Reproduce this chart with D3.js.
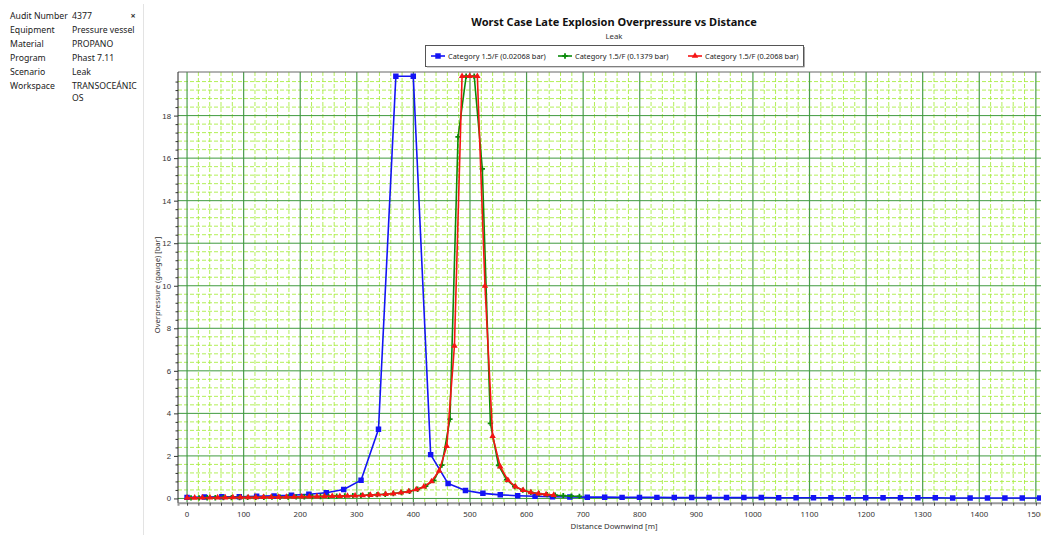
<!DOCTYPE html>
<html>
<head>
  <script src="https://d3js.org/d3.v7.min.js"></script>
  <style>
    body { margin: 0; background: #fff; }
    svg { display: block; font-family: "Noto Sans", "Open Sans", sans-serif; }
    .tick-label { font-size: 7.8px; fill: #333; }
    .panel-text { font-size: 8.7px; fill: #222; }
  </style>
</head>
<body>
  <script>
    const width = 1041;
    const height = 535;

    // info panel
    const infoLabels = ["Audit Number", "Equipment", "Material", "Program", "Scenario", "Workspace"];
    const infoValues = ["4377", "Pressure vessel", "PROPANO", "Phast 7.11", "Leak", "TRANSOCEÁNIC|OS"];

    const seriesNames = ["Category 1.5/F (0.02068 bar)", "Category 1.5/F (0.1379 bar)", "Category 1.5/F (0.2068 bar)"];

    // Category 1.5/F (0.02068 bar)
    const blueX = [0, 30.8, 61.5, 92.3, 123, 153.8, 184.5, 215.3, 246, 276.8, 307.5, 338.3, 369, 399.8, 430.5,
      461.3, 492, 522.8, 553.5, 584.3, 615, 645.8, 676.5, 707.3, 738, 768.8, 799.5, 830.3, 861, 891.8, 922.5,
      953.3, 984, 1014.8, 1045.5, 1076.3, 1107, 1137.8, 1168.5, 1199.3, 1230, 1260.8, 1291.5, 1322.3, 1353,
      1383.8, 1414.5, 1445.3, 1476, 1506.8];
    const blueY = [0.05, 0.07, 0.08, 0.08, 0.1, 0.12, 0.15, 0.2, 0.27, 0.42, 0.86, 3.25, 19.85, 19.85, 2.06,
      0.7, 0.37, 0.24, 0.17, 0.13, 0.1, 0.08, 0.07, 0.06, 0.06, 0.05, 0.05, 0.05, 0.04, 0.04, 0.04,
      0.04, 0.04, 0.04, 0.03, 0.03, 0.03, 0.03, 0.03, 0.03, 0.03, 0.03, 0.03, 0.03, 0.02, 0.02,
      0.02, 0.02, 0.02, 0.02];

    // Category 1.5/F (0.1379 bar)
    const greenX = [7, 21.3, 35.6, 49.9, 64.2, 78.5, 92.8, 107.1, 121.4, 135.7, 150, 164.3, 178.6, 192.9, 207.2,
      221.5, 235.8, 250.1, 264.4, 278.7, 293, 307.3, 321.6, 335.9, 350.2, 364.5, 378.8, 393.1, 407.4, 421.7,
      436, 450.3, 464.6, 478.9, 493.2, 507.5, 521.8, 536.1, 550.4, 564.7, 579, 593.3, 607.6, 621.9, 636.2,
      650.5, 664.8, 679.1, 693.4];
    const greenY = [0.03, 0.03, 0.035, 0.035, 0.04, 0.04, 0.045, 0.05, 0.05, 0.055, 0.06, 0.065, 0.07, 0.075, 0.08,
      0.085, 0.09, 0.1, 0.11, 0.12, 0.13, 0.14, 0.16, 0.18, 0.2, 0.23, 0.28, 0.34, 0.43, 0.58,
      0.85, 1.57, 3.73, 17.0, 19.85, 19.85, 15.5, 3.53, 1.55, 0.88, 0.56, 0.39, 0.29, 0.22, 0.18,
      0.15, 0.13, 0.11, 0.1];

    // Category 1.5/F (0.2068 bar)
    const redX = [0, 13.5, 27, 40.5, 54, 67.5, 81, 94.5, 108, 121.5, 135, 148.5, 162, 175.5, 189, 202.5,
      216, 229.5, 243, 256.5, 270, 283.5, 297, 310.5, 324, 337.5, 351, 364.5, 378, 391.5, 405, 418.5,
      432, 445.5, 459, 472.5, 486, 499.5, 513, 526.5, 540, 553.5, 567, 580.5, 594, 607.5, 621, 634.5, 648];
    const redY = [0.03, 0.03, 0.035, 0.035, 0.04, 0.04, 0.045, 0.05, 0.05, 0.055, 0.06, 0.06, 0.065, 0.07, 0.075, 0.08,
      0.085, 0.09, 0.1, 0.105, 0.11, 0.12, 0.13, 0.14, 0.16, 0.18, 0.2, 0.23, 0.27, 0.33, 0.42, 0.55,
      0.8, 1.3, 2.46, 7.17, 19.85, 19.85, 19.85, 9.99, 2.93, 1.49, 0.86, 0.55, 0.39, 0.28, 0.23, 0.19, 0.16];

    const xTicks = d3.range(0, 1600, 100);
    const yTicks = [0, 2, 4, 6, 8, 10, 12, 14, 16, 18];

    const svg = d3.select("body")
      .append("svg")
      .attr("width", width)
      .attr("height", height);

    // ---- left info panel ----
    svg.append("line")
      .attr("x1", 143.5).attr("x2", 143.5)
      .attr("y1", 4).attr("y2", height)
      .attr("stroke", "#e3e3e3");

    const rows = svg.append("g");
    infoLabels.forEach((lab, i) => {
      const y = 19 + i * 14;
      rows.append("text").attr("class", "panel-text").attr("x", 10).attr("y", y).text(lab);
      infoValues[i].split("|").forEach((part, j) => {
        rows.append("text").attr("class", "panel-text").attr("x", 72).attr("y", y + j * 12).text(part);
      });
    });
    svg.append("text")
      .attr("x", 133).attr("y", 19)
      .attr("text-anchor", "middle")
      .attr("font-size", "9px")
      .attr("font-weight", "bold")
      .attr("fill", "#333")
      .text("×");

    // ---- chart ----
    const margin = { left: 178, top: 72, right: 1050, bottom: 502.7 };

    const x = d3.scaleLinear().domain([-16, 1525]).range([margin.left, margin.right]);
    const y = d3.scaleLinear().domain([-0.2, 20.05]).range([margin.bottom, margin.top]);

    svg.append("text")
      .attr("x", 614).attr("y", 26)
      .attr("text-anchor", "middle")
      .attr("font-size", "11px")
      .attr("font-weight", "bold")
      .attr("fill", "#111")
      .text("Worst Case Late Explosion Overpressure vs Distance");

    svg.append("text")
      .attr("x", 614).attr("y", 38.5)
      .attr("text-anchor", "middle")
      .attr("font-size", "7.8px")
      .attr("fill", "#333")
      .text("Leak");

    const grid = svg.append("g");
    const xMinor = d3.range(0, 1540, 20).filter(d => d % 100 !== 0);
    const yMinor = d3.range(0, 20.01, 0.4).filter(d => Math.abs(d / 2 - Math.round(d / 2)) > 0.01);

    grid.selectAll(".xminor")
      .data(xMinor)
      .join("line")
      .attr("x1", d => x(d)).attr("x2", d => x(d))
      .attr("y1", margin.top).attr("y2", margin.bottom)
      .attr("stroke", "#a6ec3c")
      .attr("stroke-opacity", 0.85)
      .attr("stroke-dasharray", "4,2");

    grid.selectAll(".yminor")
      .data(yMinor)
      .join("line")
      .attr("x1", margin.left).attr("x2", margin.right)
      .attr("y1", d => y(d)).attr("y2", d => y(d))
      .attr("stroke", "#a6ec3c")
      .attr("stroke-opacity", 0.85)
      .attr("stroke-dasharray", "4,2");

    grid.selectAll(".xmajor")
      .data(xTicks)
      .join("line")
      .attr("x1", d => x(d)).attr("x2", d => x(d))
      .attr("y1", margin.top).attr("y2", margin.bottom)
      .attr("stroke", "#4c9e4c")
      .attr("stroke-width", 1.2);

    grid.selectAll(".ymajor")
      .data(yTicks)
      .join("line")
      .attr("x1", margin.left).attr("x2", margin.right)
      .attr("y1", d => y(d)).attr("y2", d => y(d))
      .attr("stroke", "#3f9a3f")
      .attr("stroke-width", 1);

    // frame
    svg.append("line")
      .attr("x1", margin.left).attr("x2", margin.right)
      .attr("y1", margin.top).attr("y2", margin.top)
      .attr("stroke", "#666");

    // axes
    const xAxis = svg.append("g")
      .attr("transform", `translate(0,${margin.bottom})`)
      .call(d3.axisBottom(x).tickValues(d3.range(0, 1540, 20)).tickSize(3).tickFormat(""));
    xAxis.select(".domain").attr("stroke", "#999").attr("stroke-width", 2);
    xAxis.selectAll(".tick line").attr("stroke", "#444");

    svg.append("g").selectAll("text")
      .data(xTicks)
      .join("text")
      .attr("class", "tick-label")
      .attr("x", d => x(d))
      .attr("y", 517)
      .attr("text-anchor", "middle")
      .text(d => d);

    const yAxisMinor = svg.append("g")
      .attr("transform", `translate(${margin.left},0)`)
      .call(d3.axisLeft(y).tickValues(yMinor).tickSize(2.5).tickFormat(""));
    yAxisMinor.select(".domain").remove();
    yAxisMinor.selectAll(".tick line").attr("stroke", "#333");

    const yAxis = svg.append("g")
      .attr("transform", `translate(${margin.left},0)`)
      .call(d3.axisLeft(y).tickValues(yTicks).tickSize(4).tickPadding(3));
    yAxis.select(".domain").attr("stroke", "#222").attr("d", `M0,${margin.top}V${margin.bottom}`);
    yAxis.selectAll(".tick line").attr("stroke", "#333");
    yAxis.selectAll(".tick text").attr("class", "tick-label").attr("font-size", null).attr("font-family", null);

    svg.append("text")
      .attr("transform", "translate(160,285) rotate(-90)")
      .attr("text-anchor", "middle")
      .attr("font-size", "7.6px")
      .attr("fill", "#333")
      .text("Overpressure (gauge) [bar]");

    svg.append("text")
      .attr("x", 614).attr("y", 528.5)
      .attr("text-anchor", "middle")
      .attr("font-size", "7.8px")
      .attr("fill", "#333")
      .text("Distance Downwind [m]");

    // series
    svg.append("clipPath").attr("id", "plotclip")
      .append("rect")
      .attr("x", margin.left).attr("y", margin.top - 5)
      .attr("width", margin.right - margin.left).attr("height", margin.bottom - margin.top + 5);

    const plot = svg.append("g").attr("clip-path", "url(#plotclip)");
    const line = d3.line().x(d => x(d[0])).y(d => y(d[1]));

    const series = [
      { pts: d3.zip(blueX, blueY), color: "#1414f5", shape: d3.symbolSquare, size: 30 },
      { pts: d3.zip(greenX, greenY), color: "#0a8a0a", shape: d3.symbolCross, size: 16 },
      { pts: d3.zip(redX, redY), color: "#f51414", shape: d3.symbolTriangle, size: 18 }
    ];

    series.forEach(s => {
      plot.append("path")
        .datum(s.pts)
        .attr("fill", "none")
        .attr("stroke", s.color)
        .attr("stroke-width", 1.6)
        .attr("stroke-linejoin", "round")
        .attr("d", line);
      plot.selectAll(null)
        .data(s.pts)
        .join("path")
        .attr("transform", d => `translate(${x(d[0])},${y(d[1])})`)
        .attr("d", d3.symbol().type(s.shape).size(s.size))
        .attr("fill", s.color);
    });

    // legend
    const legend = svg.append("g");
    legend.append("rect")
      .attr("x", 425.5).attr("y", 45.5)
      .attr("width", 378).attr("height", 21)
      .attr("fill", "#fff")
      .attr("stroke", "#555");
    legend.append("line")
      .attr("x1", 427).attr("x2", 804.5).attr("y1", 67).attr("y2", 67)
      .attr("stroke", "#aaa");
    legend.append("line")
      .attr("x1", 804.5).attr("x2", 804.5).attr("y1", 47).attr("y2", 67)
      .attr("stroke", "#aaa");

    const legendX = [431, 558, 688];
    series.forEach((s, i) => {
      const g = legend.append("g").attr("transform", `translate(${legendX[i]},56)`);
      g.append("line").attr("x1", 0).attr("x2", 14).attr("stroke", s.color).attr("stroke-width", 1.6);
      g.append("path").attr("transform", "translate(7,0)")
        .attr("d", d3.symbol().type(s.shape).size(s.size)).attr("fill", s.color);
      g.append("text")
        .attr("x", 17).attr("y", 2.8)
        .attr("font-size", "7.4px")
        .attr("fill", "#222")
        .text(seriesNames[i]);
    });
  </script>
</body>
</html>
